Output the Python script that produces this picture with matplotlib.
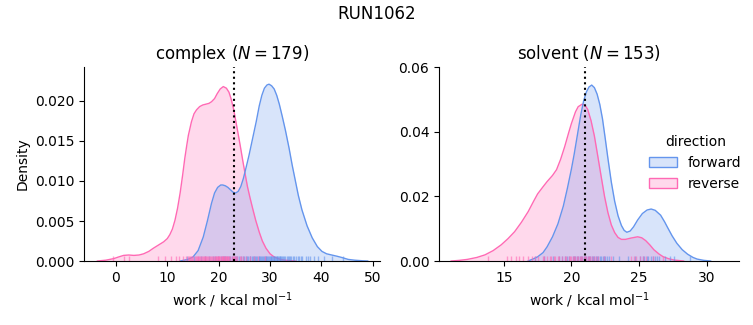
import matplotlib
matplotlib.use("Agg")
import matplotlib.pyplot as plt
import matplotlib.patches as mpatches

# density curves (x, density)
cx_fwd_x = [12.5, 14.0, 15.0, 16.0, 17.0, 17.8, 18.6, 19.2, 19.8, 20.4, 20.8, 21.3, 21.8, 22.3,
            22.8, 23.3, 23.8, 24.3, 24.8, 25.3, 25.9, 26.6, 27.3, 27.9, 28.4, 28.9, 29.4, 29.8,
            30.3, 30.8, 31.3, 31.8, 32.4, 33.0, 33.7, 34.3, 34.9, 35.5, 36.2, 37.2, 38.2, 39.2,
            40.1, 41.0, 42.0, 43.0, 43.9, 45.2, 46.5, 48.0, 49.0]
cx_fwd_y = [0.0, 0.0002, 0.0005, 0.0013, 0.003, 0.005, 0.0072, 0.0085, 0.0092, 0.0095, 0.0095,
            0.0094, 0.0092, 0.0089, 0.0086, 0.0085, 0.0087, 0.0093, 0.0103, 0.0116, 0.0132,
            0.0153, 0.0174, 0.0194, 0.0207, 0.0216, 0.0220, 0.0221, 0.0219, 0.0215, 0.0207,
            0.0196, 0.0180, 0.0163, 0.0141, 0.0120, 0.0101, 0.0082, 0.0064, 0.0044, 0.0029,
            0.0018, 0.0012, 0.0009, 0.00075, 0.0006, 0.00045, 0.0002, 0.0001, 0.00003, 0.0]
cx_rev_x = [-3.6, -2.0, -0.4, 0.5, 1.5, 2.5, 3.5, 4.5, 5.4, 6.4, 7.3, 8.3, 9.3, 10.0, 10.5, 11.0,
            11.5, 12.0, 12.5, 13.0, 13.4, 13.8, 14.1, 14.7, 15.2, 15.7, 16.3, 16.9, 17.5, 18.1,
            18.6, 19.2, 19.7, 20.3, 20.9, 21.5, 22.0, 22.4, 22.9, 23.3, 23.7, 24.2, 24.7, 25.2,
            25.6, 26.1, 26.6, 27.2, 27.9, 28.5, 29.2, 30.0, 30.8, 32.0, 33.0, 35.0]
cx_rev_y = [0.0, 0.0001, 0.0003, 0.0005, 0.0007, 0.00075, 0.0007, 0.00075, 0.0009, 0.0012, 0.0016,
            0.0020, 0.0024, 0.0028, 0.0033, 0.0040, 0.0051, 0.0066, 0.0085, 0.0108, 0.0128,
            0.0145, 0.0157, 0.0174, 0.0184, 0.0189, 0.0193, 0.0195, 0.0196, 0.0197, 0.0199,
            0.0203, 0.0209, 0.0215, 0.0218, 0.0216, 0.0211, 0.0203, 0.0190, 0.0176, 0.0162,
            0.0144, 0.0125, 0.0107, 0.0093, 0.0079, 0.0066, 0.0051, 0.0036, 0.0025, 0.0016,
            0.0009, 0.0005, 0.0002, 0.0001, 0.0]

sv_fwd_x = [16.8, 17.2, 17.5, 17.9, 18.2, 18.6, 19.0, 19.4, 19.7, 20.0, 20.2, 20.5, 20.7, 20.9,
            21.1, 21.3, 21.5, 21.7, 21.9, 22.1, 22.3, 22.5, 22.7, 22.95, 23.2, 23.45, 23.7, 23.9,
            24.1, 24.35, 24.6, 24.9, 25.25, 25.6, 25.9, 26.2, 26.6, 26.9, 27.1, 27.45, 27.8,
            28.2, 28.6, 29.0, 29.3, 29.8, 30.3]
sv_fwd_y = [0.0, 0.0007, 0.0013, 0.0026, 0.0044, 0.0075, 0.0115, 0.0170, 0.0225, 0.0285, 0.0330,
            0.0405, 0.0455, 0.0495, 0.0523, 0.0539, 0.0545, 0.0537, 0.0517, 0.0485, 0.0440,
            0.0380, 0.0318, 0.0245, 0.0185, 0.0140, 0.0110, 0.0095, 0.0089, 0.0093, 0.0106,
            0.0127, 0.0147, 0.0158, 0.0161, 0.0157, 0.0142, 0.0121, 0.0105, 0.0078, 0.0055,
            0.0035, 0.0021, 0.0011, 0.0006, 0.0002, 0.0]
sv_rev_x = [11.1, 11.7, 12.3, 13.0, 13.6, 14.2, 14.8, 15.3, 15.8, 16.3, 16.8, 17.2, 17.5, 17.9,
            18.2, 18.6, 18.9, 19.2, 19.5, 19.8, 20.0, 20.3, 20.5, 20.8, 21.0, 21.2, 21.45, 21.7,
            21.95, 22.2, 22.45, 22.7, 22.95, 23.2, 23.45, 23.7, 24.0, 24.4, 24.9, 25.2, 25.5,
            25.8, 26.1, 26.5, 26.8, 27.2, 27.6, 28.3]
sv_rev_y = [0.0, 0.0002, 0.0005, 0.0011, 0.0019, 0.0032, 0.0050, 0.0069, 0.0091, 0.0120, 0.0153,
            0.0185, 0.0208, 0.0230, 0.0246, 0.0265, 0.0283, 0.0315, 0.0354, 0.0398, 0.0426,
            0.0462, 0.0478, 0.0486, 0.0483, 0.0470, 0.0435, 0.0387, 0.0325, 0.0262, 0.0200,
            0.0150, 0.0112, 0.0088, 0.0073, 0.0067, 0.0067, 0.0071, 0.0075, 0.0072, 0.0063,
            0.0050, 0.0035, 0.0021, 0.0013, 0.0007, 0.0003, 0.0]

# rug positions (approximate)
cx_fwd_rug = [13.8, 15.2, 16.5, 17.4, 18.1, 18.8, 19.3, 19.9, 20.4, 20.8, 21.0, 21.3, 21.7, 22.0,
              22.2, 22.6, 23.1, 23.3, 23.5, 24.0, 24.4, 24.7, 24.9, 25.3, 25.5, 25.7, 26.0, 26.1,
              26.4, 26.6, 26.8, 27.1, 27.3, 27.5, 27.8, 27.9, 28.1, 28.3, 28.4, 28.7, 28.9, 29.0,
              29.2, 29.3, 29.5, 29.6, 29.8, 29.9, 30.1, 30.2, 30.4, 30.5, 30.7, 30.8, 31.0, 31.1,
              31.3, 31.4, 31.6, 31.7, 31.9, 32.0, 32.2, 32.4, 32.6, 32.8, 33.0, 33.2, 33.4, 33.6,
              33.9, 34.1, 34.4, 34.6, 35.1, 35.4, 35.7, 36.0, 36.3, 37.0, 37.4, 37.8, 38.6, 39.3,
              40.5, 42.0, 44.2]
cx_rev_rug = [-0.5, 1.6, 2.5, 8.1, 9.5, 10.8, 11.6, 12.3, 13.0, 13.6, 14.1, 14.3, 14.5, 14.7, 14.9,
              15.1, 15.3, 15.5, 15.7, 15.9, 16.0, 16.2, 16.4, 16.6, 16.7, 16.9, 17.1, 17.3, 17.4,
              17.6, 17.8, 18.0, 18.1, 18.3, 18.5, 18.7, 18.8, 19.0, 19.2, 19.4, 19.5, 19.7, 19.8,
              19.9, 20.0, 20.1, 20.3, 20.4, 20.6, 20.7, 20.8, 20.9, 21.0, 21.2, 21.3, 21.4, 21.5,
              21.6, 21.8, 21.9, 22.1, 22.3, 22.5, 22.7, 22.9, 23.1, 23.4, 23.6, 24.1, 24.4, 24.7,
              25.3, 26.0, 26.8, 27.7, 29.1]
sv_fwd_rug = [17.3, 18.0, 18.6, 19.1, 19.3, 19.5, 19.7, 19.8, 20.1, 20.2, 20.3, 20.4, 20.5, 20.6,
              20.7, 20.8, 20.9, 21.0, 21.1, 21.2, 21.3, 21.4, 21.5, 21.6, 21.7, 21.8, 21.9, 22.0,
              22.1, 22.2, 22.3, 22.4, 22.5, 22.6, 22.8, 23.1, 23.5, 24.2, 24.7, 25.1, 25.3, 25.4,
              25.6, 25.7, 25.9, 26.0, 26.2, 26.3, 26.5, 26.9, 27.3, 27.6, 28.8]
sv_rev_rug = [13.8, 15.2, 15.5, 15.9, 16.1, 16.4, 16.8, 17.1, 17.3, 17.5, 17.9, 18.0, 18.2, 18.4,
              18.5, 18.7, 18.8, 19.0, 19.1, 19.3, 19.5, 19.6, 19.8, 19.9, 20.0, 20.1, 20.2, 20.3,
              20.4, 20.5, 20.6, 20.7, 20.8, 20.9, 21.0, 21.1, 21.2, 21.3, 21.4, 21.5, 21.7, 21.8,
              22.0, 22.4, 22.9, 24.4, 24.6, 24.8, 25.1, 25.3, 25.5, 26.0, 26.8]

panels = ["complex", "solvent"]
counts = [179, 153]
dg_lines = [22.9, 21.0]
fwd_color = "#6495ED"
rev_color = "#FF69B4"

fig = plt.figure(figsize=(7.53, 3.25), dpi=100)
ax1 = fig.add_axes([0.1116, 0.1969, 0.3931, 0.597])
ax2 = fig.add_axes([0.583, 0.1969, 0.3984, 0.597])

data = [
    (ax1, cx_fwd_x, cx_fwd_y, cx_rev_x, cx_rev_y, cx_fwd_rug, cx_rev_rug),
    (ax2, sv_fwd_x, sv_fwd_y, sv_rev_x, sv_rev_y, sv_fwd_rug, sv_rev_rug),
]

for i, (ax, fx, fy, rx, ry, frug, rrug) in enumerate(data):
    ax.fill_between(rx, ry, color=rev_color, alpha=0.25, lw=0)
    ax.plot(rx, ry, color=rev_color, lw=1)
    ax.fill_between(fx, fy, color=fwd_color, alpha=0.25, lw=0)
    ax.plot(fx, fy, color=fwd_color, lw=1)
    trans = ax.get_xaxis_transform()
    ax.vlines(frug, 0, 0.025, transform=trans, color=fwd_color, lw=1, alpha=0.6)
    ax.vlines(rrug, 0, 0.025, transform=trans, color=rev_color, lw=1, alpha=0.6)
    ax.axvline(dg_lines[i], color="black", ls=":", lw=1.5)
    ax.set_title(f"{panels[i]} ($N = {counts[i]}$)", fontsize=12)
    ax.set_xlabel("work / kcal mol$^{-1}$")
    ax.spines["top"].set_visible(False)
    ax.spines["right"].set_visible(False)

ax1.set_xlim(-6.2, 51.4)
ax1.set_ylim(0, 0.02425)
ax1.set_xticks([0, 10, 20, 30, 40, 50])
ax1.set_yticks([0, 0.005, 0.010, 0.015, 0.020])
ax1.set_yticklabels(["0.000", "0.005", "0.010", "0.015", "0.020"])
ax1.set_ylabel("Density")

ax2.set_xlim(10.2, 32.4)
ax2.set_ylim(0, 0.0601)
ax2.set_xticks([15, 20, 25, 30])
ax2.set_yticks([0, 0.02, 0.04, 0.06])
ax2.set_yticklabels(["0.00", "0.02", "0.04", "0.06"])

fig.suptitle("RUN1062", fontsize=12, y=0.985)

leg = fig.legend(handles=[mpatches.Patch(facecolor=(0.392, 0.584, 0.929, 0.25), edgecolor=fwd_color, label="forward"),
                          mpatches.Patch(facecolor=(1.0, 0.412, 0.706, 0.25), edgecolor=rev_color, label="reverse")],
                 title="direction", frameon=False, loc="center left",
                 bbox_to_anchor=(0.8453, 0.499))

fig.savefig("out.png", dpi=100)
